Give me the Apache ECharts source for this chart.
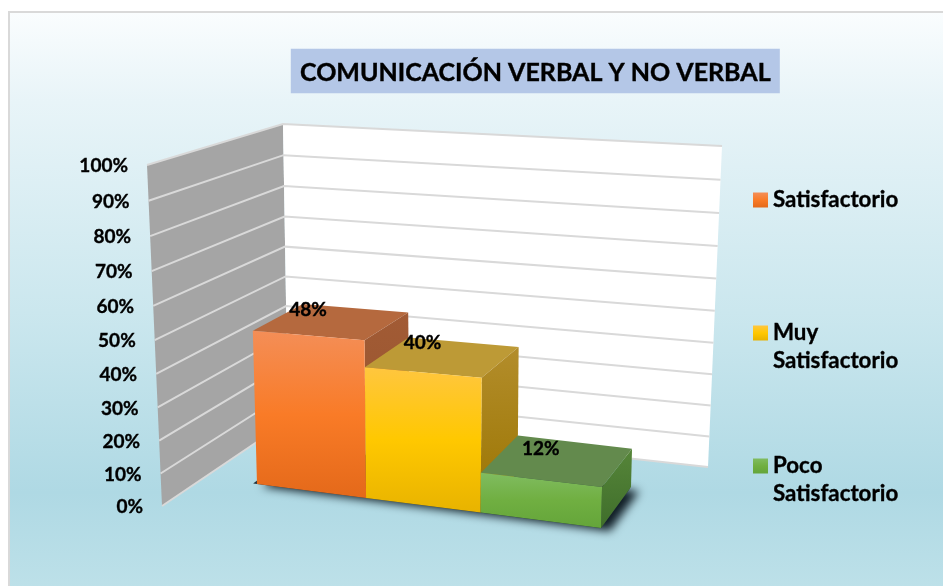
<!DOCTYPE html>
<html>
<head>
<meta charset="utf-8">
<style>
  html, body { margin: 0; padding: 0; background: #fff; }
  #chart { width: 943px; height: 586px; }
</style>
<script src="https://cdn.jsdelivr.net/npm/echarts@6/dist/echarts.min.js"></script>
</head>
<body>
<div id="chart"></div>
<script>
const titleText = 'COMUNICACIÓN VERBAL Y NO VERBAL';
const categories = ['Satisfactorio', 'Muy Satisfactorio', 'Poco Satisfactorio'];
const values = [48, 40, 12];
const tickValues = [0, 10, 20, 30, 40, 50, 60, 70, 80, 90, 100];
const tickLabels = ['0%', '10%', '20%', '30%', '40%', '50%', '60%', '70%', '80%', '90%', '100%'];

const FONT = 'Lato, "Open Sans", sans-serif';
const gridBox = { left: 257, top: 165, width: 344, height: 341 };

// colours per bar: front gradient, top face, side gradient; labelDy nudges the data label
const faces = [
  { front: ['#F48E57', '#F97B27', '#E4691A'], top: '#B5693E', side: ['#A25B35', '#94532C'], labelDy: 0 },
  { front: ['#FFC63F', '#FFC800', '#E8B300'], top: '#BD9A36', side: ['#B38D2B', '#9A7400'], labelDy: -2 },
  { front: ['#80BC60', '#70AF41', '#64A53A'], top: '#638A4D', side: ['#568539', '#3F6E2B'], labelDy: 4 }
];

function lerp(a, b, k) { return [a[0] + (b[0] - a[0]) * k, a[1] + (b[1] - a[1]) * k]; }
// equal steps shrink slightly with distance, so axis fractions get this correction
function warp(t, r) { return t / (t + (1 - t) * r); }

// walls of the 3d frame
const wallFrontBottom = [162, 506], wallFrontTop = [147, 165];
const wallBackBottom = [288, 421], wallBackTop = [283, 124];
const wallRightBottom = [708, 467], wallRightTop = [722, 146];

function onWall(a, b, t) { return lerp(a, b, warp(t, 1.055)); }

// box the bars stand in: f = front, b = back; first letter of pair bottom/top, then left/right
const fbl = [257, 484], fbr = [601, 528], ftl = [248, 155], ftr = [610, 168];
const bbl = [307, 446], bbr = [631, 487], btl = [298, 141], btr = [640, 151];

function inBox(u, t, d) {
  const uu = warp(u, 1.077), tt = warp(t, 1.06);
  const front = lerp(lerp(fbl, fbr, uu), lerp(ftl, ftr, uu), tt);
  const back = lerp(lerp(bbl, bbr, uu), lerp(btl, btr, uu), tt);
  return lerp(front, back, d);
}

function axisT(api, v) {
  return (gridBox.top + gridBox.height - api.coord([0, v])[1]) / gridBox.height;
}

function vGrad(stops) {
  const n = stops.length - 1;
  return new echarts.graphic.LinearGradient(0, 0, 0, 1, stops.map((c, i) => ({ offset: i / n, color: c })));
}

function poly(points, fill) {
  return { type: 'polygon', silent: true, shape: { points: points }, style: { fill: fill } };
}

function renderWalls() {
  return {
    type: 'group',
    children: [
      poly([wallFrontBottom, wallFrontTop, wallBackTop, wallBackBottom], '#A5A5A5'),
      poly([wallBackBottom, wallBackTop, wallRightTop, wallRightBottom], '#FFFFFF')
    ]
  };
}

function renderGridline(params, api) {
  const t = axisT(api, api.value(1));
  return {
    type: 'polyline',
    silent: true,
    shape: {
      points: [
        onWall(wallFrontBottom, wallFrontTop, t),
        onWall(wallBackBottom, wallBackTop, t),
        onWall(wallRightBottom, wallRightTop, t)
      ]
    },
    style: { fill: null, stroke: '#D9D9D9', lineWidth: 2 }
  };
}

function renderTickLabel(params, api) {
  const t = axisT(api, api.value(1));
  const p = onWall(wallFrontBottom, wallFrontTop, t);
  return {
    type: 'text',
    silent: true,
    style: {
      x: p[0] - 19, y: p[1] + 1,
      text: tickLabels[params.dataIndex],
      align: 'right', verticalAlign: 'middle',
      fill: '#000', stroke: '#000', lineWidth: 0.35, font: 'bold 19px ' + FONT
    }
  };
}

function renderShadow() {
  return {
    type: 'polygon',
    silent: true,
    shape: { points: [inBox(-0.012, 0, 0), inBox(1, 0, 0), inBox(1, 0, 0.97), inBox(-0.012, 0, 0.97)] },
    style: {
      fill: 'rgba(35,50,60,1)',
      shadowBlur: 10, shadowColor: 'rgba(15,28,36,1)', shadowOffsetX: 9, shadowOffsetY: 3
    }
  };
}

function renderBar(params, api) {
  const i = api.value(0);
  const band = api.size([1, 0])[0];
  const cx = api.coord([i, 0])[0];
  const u0 = (cx - band / 2 - gridBox.left) / gridBox.width;
  const u1 = (cx + band / 2 - gridBox.left) / gridBox.width;
  const t = axisT(api, api.value(1));
  const f = faces[i];
  const labelAt = [inBox((u0 + u1) / 2, t, 0)[0], inBox((u0 + u1) / 2, t, 0.92)[1] + f.labelDy];
  return {
    type: 'group',
    children: [
      poly([inBox(u0, t, 0), inBox(u1, t, 0), inBox(u1, t, 1), inBox(u0, t, 1)], f.top),
      poly([inBox(u1, 0, 0), inBox(u1, t, 0), inBox(u1, t, 1), inBox(u1, 0, 1)], vGrad(f.side)),
      poly([inBox(u0, 0, 0), inBox(u1, 0, 0), inBox(u1, t, 0), inBox(u0, t, 0)], vGrad(f.front)),
      {
        type: 'text',
        silent: true,
        style: {
          x: labelAt[0], y: labelAt[1],
          text: api.value(1) + '%',
          align: 'center', verticalAlign: 'middle',
          fill: '#000', stroke: '#000', lineWidth: 0.35, font: 'bold 19px ' + FONT
        }
      }
    ]
  };
}

// a leading blank line centres the first line of two-line names on the icon
const legendTops = [186, 291, 424];
const legends = categories.map((name, i) => ({
  left: 753,
  top: legendTops[i],
  padding: 0,
  orient: 'vertical',
  selectedMode: false,
  itemWidth: 15,
  itemHeight: 15,
  icon: 'rect',
  data: [{ name: name }],
  formatter: n => (n.indexOf(' ') > 0 ? '\n' + n.replace(' ', '\n') : n),
  textStyle: {
    fontFamily: FONT, fontWeight: 'bold', fontSize: 22.3, color: '#000', lineHeight: 28,
    textBorderColor: '#000', textBorderWidth: 0.35
  }
}));

const series = [
  { type: 'custom', name: 'walls', silent: true, data: [[0, 0]], renderItem: renderWalls },
  { type: 'custom', name: 'gridlines', silent: true, data: tickValues.map(v => [0, v]), renderItem: renderGridline },
  { type: 'custom', name: 'ticks', silent: true, data: tickValues.map(v => [0, v]), renderItem: renderTickLabel },
  { type: 'custom', name: 'shadow', silent: true, data: [[0, 0]], renderItem: renderShadow }
].concat(categories.map((name, i) => ({
  type: 'custom',
  name: name,
  silent: true,
  data: [[i, values[i]]],
  itemStyle: { color: vGrad(faces[i].front) },
  renderItem: renderBar
})));

const chart = echarts.init(document.getElementById('chart'), null, { renderer: 'canvas' });
chart.setOption({
  animation: false,
  backgroundColor: '#fff',
  graphic: [{
    type: 'rect',
    z: -10,
    silent: true,
    shape: { x: 9, y: 12, width: 960, height: 600 },
    style: {
      stroke: '#D9D9D9',
      lineWidth: 2,
      fill: new echarts.graphic.LinearGradient(0, 0, 0, 1, [
        { offset: 0, color: '#FAFDFE' },
        { offset: 0.15, color: '#E8F4F8' },
        { offset: 0.5, color: '#CBE7EE' },
        { offset: 0.8, color: '#AFD9E4' },
        { offset: 0.97, color: '#BEE1E9' }
      ])
    }
  }],
  title: {
    text: titleText,
    left: 291,
    top: 49,
    padding: [11, 9, 8, 9],
    backgroundColor: '#B4C7E7',
    textStyle: {
      fontFamily: FONT, fontWeight: 'bold', fontSize: 25, color: '#000',
      textBorderColor: '#000', textBorderWidth: 0.4
    }
  },
  legend: legends,
  tooltip: { show: false },
  grid: gridBox,
  xAxis: { type: 'category', data: categories, show: false },
  yAxis: { type: 'value', min: 0, max: 100, interval: 10, show: false },
  series: series
});
</script>
</body>
</html>
